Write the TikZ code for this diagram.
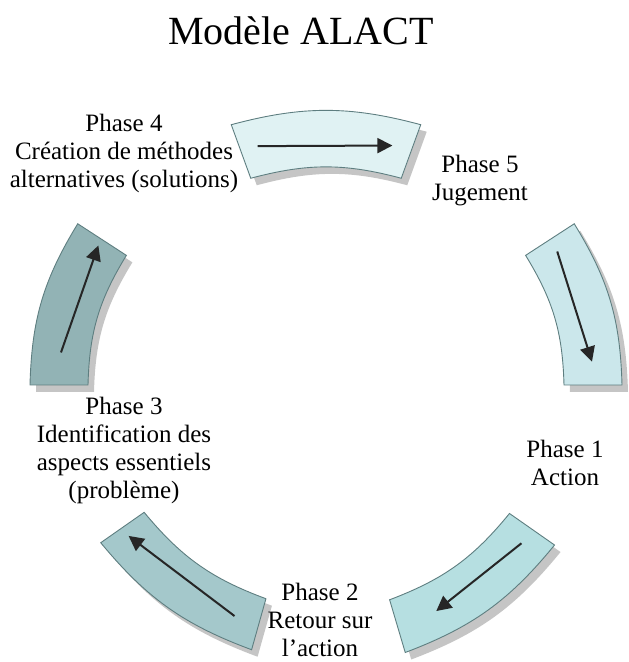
\documentclass[tikz,border=0pt]{standalone}
\usepackage{fontspec}
\setmainfont{Liberation Serif}
\usetikzlibrary{arrows.meta}

\definecolor{segA}{HTML}{E0F2F3}
\definecolor{segB}{HTML}{CBE7EB}
\definecolor{segC}{HTML}{B6DFE1}
\definecolor{segD}{HTML}{A4C8CB}
\definecolor{segE}{HTML}{92B3B5}
\definecolor{segline}{HTML}{5E7E80}

\begin{document}
\begin{tikzpicture}[x=1pt,y=1pt,
  phase/.style={align=center,inner sep=0pt,font=\fontsize{25}{28}\selectfont},
  segshadow/.style={fill=black!45,opacity=0.5},
  segarrow/.style={draw=black!85,line width=2pt,-{Triangle[length=15pt,width=15pt]}}]
\useasboundingbox (0,0) rectangle (629,662);
% the title
\node[inner sep=0pt,font=\fontsize{40}{48}\selectfont] (title) at (301,631) {Modèle ALACT};
% the ring segments, clockwise from the top
\begin{scope}[shift={(326,277)}]
\foreach \sa/\sb/\ri/\ro/\aa/\ab/\col in {110/70/220/277/106/74.5/segA,
    33/0/238/296/30/5/segB,
    -35/-73.5/224/279/-39/-64/segC,
    -105.7/-145/222/275/-111.6/-142.6/segD,
    180/147/238/296/173/148.5/segE}
{
  \pgfmathsetmacro\rmid{(\ri+\ro)/2}
  \fill[segshadow,shift={(6,-7)}] (\sa:\ro) to[bend left=15] (\sb:\ro) -- (\sb:\ri) to[bend right=15] (\sa:\ri) -- cycle;
  \filldraw[fill=\col,draw=segline,line width=0.9pt] (\sa:\ro) to[bend left=15] (\sb:\ro) -- (\sb:\ri) to[bend right=15] (\sa:\ri) -- cycle;
  \draw[segarrow] (\aa:\rmid) -- (\ab:\rmid);
}
\end{scope}
% the labels
\node[phase] (p4) at (124,509) {Phase 4\\Création de méthodes\\alternatives (solutions)};
\node[phase] (p5) at (480,481) {Phase 5\\Jugement};
\node[phase] (p1) at (565,199) {Phase 1\\Action};
\node[phase] (p2) at (320,42) {Phase 2\\Retour sur\\l’action};
\node[phase] (p3) at (124,212) {Phase 3\\Identification des\\aspects essentiels\\(problème)};
\end{tikzpicture}
\end{document}
